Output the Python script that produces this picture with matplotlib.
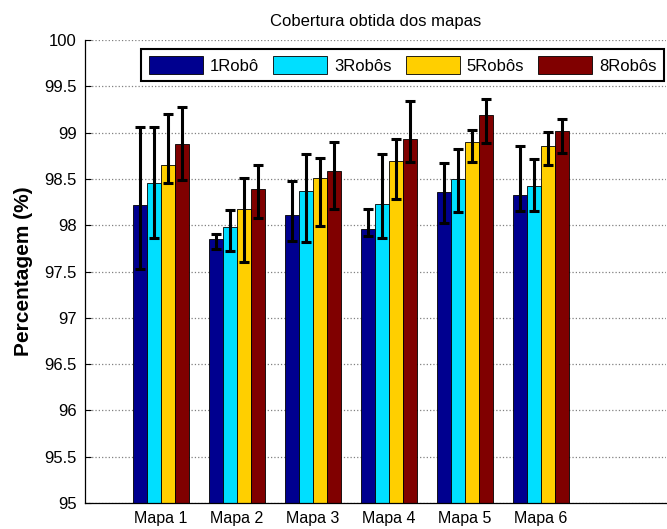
import matplotlib
matplotlib.use("Agg")
import matplotlib.pyplot as plt
import numpy as np

plt.rcParams['font.family'] = ['Liberation Sans', 'DejaVu Sans']

categories = ['Mapa 1', 'Mapa 2', 'Mapa 3', 'Mapa 4', 'Mapa 5', 'Mapa 6']
series = ['1Robô', '3Robôs', '5Robôs', '8Robôs']

# mean coverage per map (%)
mean_1 = [98.22, 97.85, 98.11, 97.96, 98.36, 98.33]
mean_3 = [98.46, 97.98, 98.37, 98.23, 98.50, 98.42]
mean_5 = [98.65, 98.18, 98.51, 98.69, 98.90, 98.86]
mean_8 = [98.88, 98.39, 98.59, 98.93, 99.19, 99.02]

# lower / upper ends of the error bars (%)
low_1 = [97.53, 97.74, 97.83, 97.88, 98.02, 98.15]
high_1 = [99.06, 97.91, 98.48, 98.18, 98.67, 98.86]
low_3 = [97.86, 97.72, 97.82, 97.86, 98.14, 98.15]
high_3 = [99.06, 98.16, 98.77, 98.77, 98.82, 98.72]
low_5 = [98.46, 97.60, 97.99, 98.28, 98.68, 98.65]
high_5 = [99.20, 98.51, 98.73, 98.93, 99.03, 99.01]
low_8 = [98.49, 98.08, 98.17, 98.68, 98.89, 98.78]
high_8 = [99.28, 98.65, 98.90, 99.34, 99.36, 99.15]

means = [mean_1, mean_3, mean_5, mean_8]
lows = [low_1, low_3, low_5, low_8]
highs = [high_1, high_3, high_5, high_8]
colors = [(0, 0, 0.5625), (0, 0.875, 1), (1, 0.8125, 0), (0.5, 0, 0)]

fig = plt.figure(figsize=(6.67, 5.29), dpi=100)
ax = fig.add_axes([85 / 667, 26 / 529, 581 / 667, 463 / 529])

x = np.arange(1, len(categories) + 1)
width = 0.182
offsets = (np.arange(len(series)) - 1.5) * width

for i, name in enumerate(series):
    m = np.array(means[i])
    lo = m - np.array(lows[i])
    hi = np.array(highs[i]) - m
    ax.bar(x + offsets[i], m - 95, width, bottom=95, color=colors[i],
           edgecolor='black', linewidth=0.6, label=name, zorder=2)
    ax.errorbar(x + offsets[i], m, yerr=[lo, hi], fmt='none', ecolor='black',
                elinewidth=2.2, capsize=3.8, capthick=2.2, zorder=3)

ax.set_ylim(95, 100)
ax.set_xlim(0, 581 / 76)
ax.set_yticks(np.arange(95, 100.01, 0.5))
ax.set_yticklabels(['95', '95.5', '96', '96.5', '97', '97.5', '98', '98.5',
                    '99', '99.5', '100'])
ax.set_xticks(x)
ax.set_xticklabels(categories)
ax.tick_params(axis='y', direction='in', length=4, labelsize=12, pad=6)
ax.tick_params(axis='x', direction='in', length=0, labelsize=11.5, pad=6)
ax.yaxis.grid(True, linestyle=':', color='#808080', linewidth=0.9, zorder=0)
ax.set_axisbelow(True)
for s in ['top', 'right']:
    ax.spines[s].set_visible(False)
ax.spines['left'].set_linewidth(0.9)
ax.spines['bottom'].set_linewidth(0.9)

ax.set_title('Cobertura obtida dos mapas', fontsize=12, pad=10)
ax.set_ylabel('Percentagem (%)', fontsize=15, fontweight='bold', labelpad=8)

leg = ax.legend(ncol=4, loc='upper right', bbox_to_anchor=(579 / 581, 454 / 463),
                fontsize=12, frameon=True, fancybox=False, handlelength=3.25,
                handleheight=1.2, handletextpad=0.4, columnspacing=0.85,
                borderpad=0.45, borderaxespad=0)
leg.get_frame().set_edgecolor('black')
leg.get_frame().set_linewidth(1.5)
leg.get_frame().set_alpha(1)

fig.savefig('out.png', dpi=100)
